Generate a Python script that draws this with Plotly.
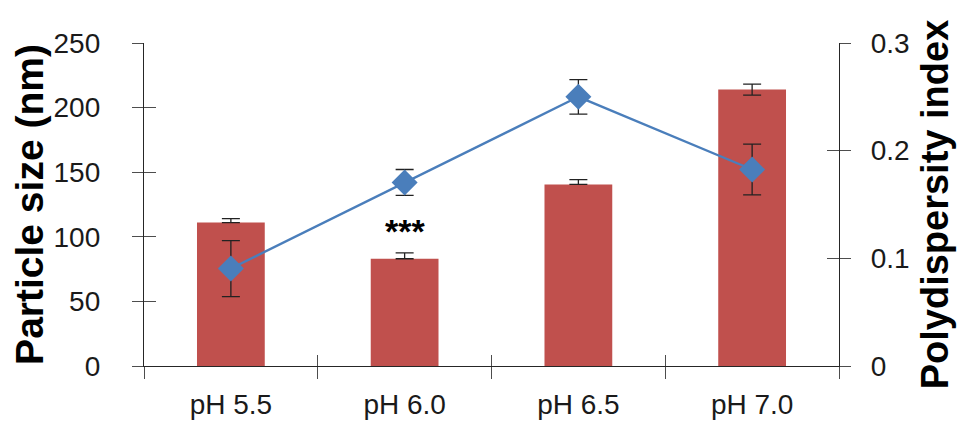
import plotly.graph_objects as go

categories = ["pH 5.5", "pH 6.0", "pH 6.5", "pH 7.0"]
size_nm = [111, 83, 140.5, 214]
size_err_plus = [3, 4.6, 3.7, 4.2]
size_err_minus = [0, 0, 0, 4.4]
pdi = [0.0905, 0.1705, 0.25, 0.1825]
pdi_err = [0.026, 0.012, 0.016, 0.0235]
left_ticks = [0, 50, 100, 150, 200, 250]
right_ticks = [0, 0.1, 0.2, 0.3]
right_tick_text = ["0", "0.1", "0.2", "0.3"]
boundaries = [-0.5, 0.5, 1.5, 2.5, 3.5]

FONT = "Liberation Sans, Arial, sans-serif"
AX = "#262626"
TK = "#4d4d4d"
TXT = "#1a1a1a"

fig = go.Figure()
fig.add_trace(go.Bar(
    x=categories, y=size_nm, marker=dict(color="#C0504D", line=dict(width=0)),
    error_y=dict(type="data", array=size_err_plus, arrayminus=size_err_minus,
                 symmetric=False, color="#222222", thickness=1.3, width=9),
    yaxis="y", xaxis="x", showlegend=False))
fig.add_trace(go.Scatter(
    x=categories, y=pdi, mode="lines+markers",
    line=dict(color="#4A7EBB", width=2.3),
    marker=dict(symbol="diamond", size=20, color="#4A7EBB"),
    error_y=dict(type="data", array=pdi_err, color="#222222", thickness=1.3, width=9),
    yaxis="y2", xaxis="x", showlegend=False))
# invisible helper traces so the overlay axes (inside half of crossing ticks) are drawn
fig.add_trace(go.Scatter(x=boundaries, y=[0] * len(boundaries), xaxis="x2", yaxis="y3",
                         mode="markers", marker=dict(opacity=0), hoverinfo="skip",
                         showlegend=False))
fig.add_trace(go.Scatter(x=boundaries, y=[0] * len(boundaries), xaxis="x2", yaxis="y4",
                         mode="markers", marker=dict(opacity=0), hoverinfo="skip",
                         showlegend=False))
fig.add_annotation(x="pH 6.0", y=104.5, xref="x", yref="y", text="<b>***</b>",
                   showarrow=False, font=dict(size=34, color="black", family=FONT))

fig.update_layout(
    width=966, height=422,
    margin=dict(l=136, r=135, t=35, b=64, autoexpand=False),
    paper_bgcolor="white", plot_bgcolor="white",
    bargap=0.61,
    font=dict(family=FONT, color=TXT),
    xaxis=dict(type="category", range=[-0.5, 3.5], tickson="boundaries",
               ticks="outside", ticklen=12, tickcolor=TK, tickwidth=1.3,
               showline=True, linecolor=AX, linewidth=1.3, showgrid=False,
               automargin=False, ticklabelstandoff=13,
               tickfont=dict(size=28, family=FONT, color=TXT)),
    xaxis2=dict(overlaying="x", range=[-0.5, 3.5], tickvals=boundaries,
                ticks="inside", ticklen=11, tickcolor=TK, tickwidth=1.3,
                showticklabels=False, showline=False, showgrid=False,
                zeroline=False, anchor="y", side="bottom", automargin=False),
    yaxis=dict(range=[0, 250], tickvals=left_ticks, ticks="outside", ticklen=11,
               tickcolor=TK, tickwidth=1.3, showline=True, linecolor=AX, linewidth=1.3,
               showgrid=False, zeroline=False, automargin=True, ticklabelstandoff=26,
               tickfont=dict(size=28, family=FONT, color=TXT),
               title=dict(text="<b>Particle size (nm)</b>",
                          font=dict(size=39, family=FONT, color="black"), standoff=6)),
    yaxis3=dict(overlaying="y", range=[0, 250], tickvals=left_ticks, ticks="inside",
                ticklen=12, tickcolor=TK, tickwidth=1.3, showticklabels=False,
                showline=False, showgrid=False, zeroline=False, side="left", anchor="x2",
                automargin=False),
    yaxis2=dict(overlaying="y", side="right", range=[0, 0.3], tickvals=right_ticks,
                ticktext=right_tick_text,
                ticks="outside", ticklen=11, tickcolor=TK, tickwidth=1.3,
                showline=True, linecolor=AX, linewidth=1.3, showgrid=False, zeroline=False,
                automargin=True, ticklabelstandoff=14,
                tickfont=dict(size=28, family=FONT, color=TXT),
                title=dict(text="<b>Polydispersity index</b>",
                           font=dict(size=38, family=FONT, color="black"), standoff=12)),
    yaxis4=dict(overlaying="y", side="right", range=[0, 0.3], tickvals=right_ticks,
                ticks="inside", ticklen=12, tickcolor=TK, tickwidth=1.3,
                showticklabels=False, showline=False, showgrid=False, zeroline=False,
                anchor="x2", automargin=False),
)
fig.write_html("out.html")
